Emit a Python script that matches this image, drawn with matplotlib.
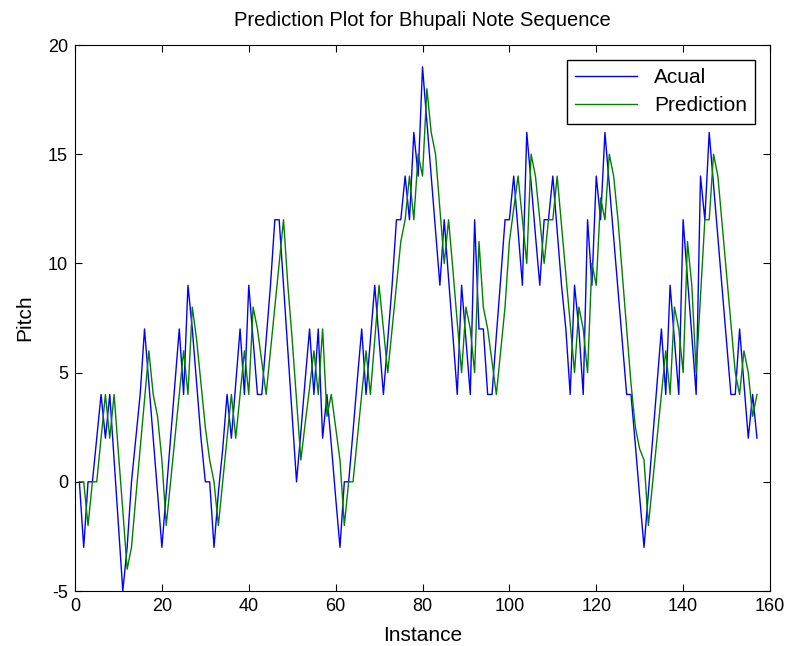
import matplotlib
matplotlib.use('Agg')
import matplotlib.pyplot as plt

# Data (instances 1..157)
actual = [0, -3, 0, 0, 2, 4, 2, 4, 1, -2,
          -5, -3, 0, 2, 4, 7, 4.5, 2, -0.5, -3,
          -0.5, 2, 4.5, 7, 4, 9, 7, 4.5, 2, 0,
          0, -3, -0.5, 1.5, 4, 2, 4.5, 7, 4, 9,
          6.5, 4, 4, 6.5, 9, 12, 12, 9, 6, 3,
          0, 2.3, 4.7, 7, 4, 7, 2, 4, 1.7, -0.7,
          -3, 0, 0, 2.3, 4.7, 7, 4, 6.5, 9, 6.5,
          4, 6.5, 9, 12, 12, 14, 12, 16, 14, 19,
          16.5, 14, 11.5, 9, 12, 9.3, 6.7, 4, 9, 6.5,
          4, 12, 7, 7, 4, 4, 6.7, 9.3, 12, 12,
          14, 11.5, 9, 16, 13.7, 11.3, 9, 12, 12, 14,
          11.5, 9, 7, 4, 9, 7, 4, 12, 9, 14,
          12, 16, 13.6, 11.2, 8.8, 6.4, 4, 4, 1.7, -0.7,
          -3, -0.5, 2, 4.5, 7, 4, 9, 6.5, 4, 12,
          9.3, 6.7, 4, 14, 12, 16, 13.6, 11.2, 8.8, 6.4,
          4, 4, 7, 4.5, 2, 4, 2]

prediction = [0, 0, -2, 0, 0, 2, 4, 2, 4, 1.3,
              -1.3, -4, -3, -0.7, 1.5, 3.75, 6, 4, 3, 1,
              -2, 0, 2, 4, 6, 4, 8, 6.5, 4.5, 2.5,
              1, 0, -2, 0, 2, 4, 2, 4, 6, 4,
              8, 7, 5.5, 4, 6, 8, 10, 12, 9, 6.5,
              3.75, 1, 2.7, 4.3, 6, 4, 7, 3, 4, 2.5,
              1, -2, 0, 0, 2, 4, 6, 4, 6.5, 9,
              7, 5, 7, 9, 11, 12, 14, 12, 15, 14,
              18, 16, 15, 12.5, 10, 12, 9.7, 7.3, 5, 8,
              7, 5, 11, 8, 7, 5.5, 4, 6, 8, 11,
              12.5, 14, 12, 10, 15, 14, 12, 10, 12, 12,
              14, 11.75, 9.5, 7.25, 5, 8, 7, 5, 10, 9,
              13, 12, 15, 14, 12, 9.5, 7, 4.5, 2.5, 1.5,
              1, -2, 0, 2, 4, 6, 4, 8, 7, 5,
              11, 9, 5, 8.5, 12, 12, 15, 14, 11.75, 9.5,
              7.25, 5, 4, 6, 5, 3, 4]

instances = list(range(1, len(actual) + 1))

x_ticks = [0, 20, 40, 60, 80, 100, 120, 140, 160]
y_ticks = [-5, 0, 5, 10, 15, 20]

plt.rcParams['font.family'] = ['Liberation Sans', 'DejaVu Sans']
plt.rcParams['axes.unicode_minus'] = False

fig = plt.figure(figsize=(7.93, 6.46), dpi=100)
ax = fig.add_axes([0.0946, 0.0851, 0.8764, 0.8452])

ax.plot(instances, actual, color='#0000ff', lw=1.0, label='Acual')
ax.plot(instances, prediction, color='#008000', lw=1.0, label='Prediction')

ax.set_xlim(0, 160)
ax.set_ylim(-5, 20)
ax.set_xticks(x_ticks)
ax.set_yticks(y_ticks)
ax.tick_params(direction='in', top=True, right=True, length=5, width=0.8,
               labelsize=13, pad=5)
for spine in ax.spines.values():
    spine.set_linewidth(0.8)

ax.set_title('Prediction Plot for Bhupali Note Sequence', fontsize=14.5, pad=14)
ax.set_xlabel('Instance', fontsize=15, labelpad=8)
ax.set_ylabel('Pitch', fontsize=15, labelpad=10)

leg = ax.legend(loc='upper right', fontsize=15, fancybox=False, framealpha=1,
                edgecolor='black', handlelength=3.0, borderaxespad=0.7,
                labelspacing=0.45, borderpad=0.4)
leg.get_frame().set_linewidth(1.0)

fig.savefig('out.png', dpi=100)
